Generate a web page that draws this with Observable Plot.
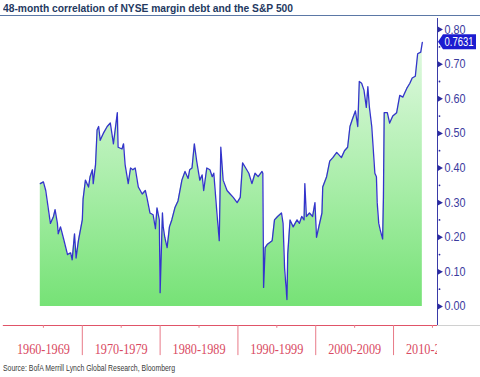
<!DOCTYPE html>
<html><head><meta charset="utf-8">
<script src="https://cdn.jsdelivr.net/npm/d3@7"></script>
<script src="https://cdn.jsdelivr.net/npm/@observablehq/plot@0.6"></script>
<style>
html,body{margin:0;padding:0;background:#fff;}
body{width:480px;height:377px;overflow:hidden;position:relative;font-family:"Liberation Sans",Arial,sans-serif;}
#titlebar{position:absolute;left:0;top:0;width:480px;height:15px;border-bottom:1px solid #5b78a6;}
#title{position:absolute;left:3px;top:2px;white-space:nowrap;font:bold 11.5px "Liberation Sans",Arial,sans-serif;color:#24395f;transform-origin:0 0;line-height:13px;}
#chart{position:absolute;left:0;top:16px;}
#source{position:absolute;left:3px;top:363px;white-space:nowrap;font-size:8.5px;color:#3a3a3a;transform-origin:0 0;line-height:10px;}
</style></head><body>
<div id="titlebar"><span id="title">48-month correlation of NYSE margin debt and the S&amp;P 500</span></div>
<div id="chart"></div>
<span id="source">Source: BofA Merrill Lynch Global Research, Bloomberg</span>
<script>
const dates = [1964.6,1965.0,1965.3,1965.9,1966.3,1966.5,1966.8,1966.9,1967.2,1967.6,1968.1,1968.5,1968.7,1969.0,1969.2,1969.5,
1970.0,1970.1,1970.4,1970.8,1971.0,1971.3,1971.4,1971.7,1971.9,1972.1,1972.3,1972.7,1973.2,1973.6,1974.0,1974.5,1974.6,1975.1,1975.3,1975.5,1975.9,1976.2,1976.5,1976.8,1977.2,1977.7,1978.1,1978.3,1978.7,1979.1,1979.4,1979.6,1979.9,
1980.0,1980.3,1980.4,1980.6,1980.9,1981.2,1981.5,1981.9,1982.3,1982.8,1983.2,1983.6,1983.8,1984.1,1984.4,1984.7,1985.1,1985.4,1985.6,1986.0,1986.4,1986.7,1986.9,1987.3,1987.6,1987.8,1988.1,1988.6,1989.0,1989.4,1989.9,
1990.3,1990.6,1991.0,1991.4,1991.8,1992.2,1992.6,1993.1,1993.2,1993.3,1993.5,1993.8,1994.4,1994.7,1995.1,1995.6,1995.8,1996.0,1996.3,1996.4,1996.7,1997.1,1997.6,1997.9,1998.2,1998.5,1998.6,1998.8,1999.2,1999.6,1999.9,
2000.1,2000.4,2000.8,2000.9,2001.4,2001.8,2002.2,2002.7,2002.9,2003.3,2003.7,2004.1,2004.4,2004.7,2005.1,2005.4,2005.6,2005.9,2006.2,2006.5,2006.7,2006.9,2007.2,2007.6,2007.8,2007.9,2008.1,2008.3,2008.6,2008.7,2008.8,2009.2,2009.5,2009.9,
2010.4,2010.8,2011.2,2011.7,2012.1,2012.4,2012.8,2013.1,2013.5,2013.7];
const values = [0.355,0.36,0.335,0.24,0.26,0.28,0.24,0.21,0.23,0.195,0.15,0.155,0.135,0.21,0.14,0.19,
0.25,0.31,0.365,0.345,0.375,0.395,0.355,0.41,0.51,0.52,0.48,0.50,0.52,0.53,0.47,0.56,0.46,0.455,0.47,0.41,0.355,0.40,0.395,0.40,0.345,0.325,0.335,0.315,0.27,0.265,0.225,0.285,0.25,
0.04,0.27,0.23,0.20,0.17,0.23,0.25,0.285,0.305,0.365,0.39,0.37,0.395,0.40,0.47,0.42,0.365,0.38,0.335,0.40,0.395,0.375,0.385,0.27,0.19,0.46,0.365,0.335,0.325,0.315,0.30,
0.315,0.415,0.40,0.385,0.355,0.385,0.375,0.39,0.385,0.055,0.17,0.18,0.19,0.25,0.26,0.27,0.24,0.11,0.02,0.15,0.25,0.23,0.25,0.24,0.26,0.25,0.355,0.26,0.27,0.26,0.30,
0.20,0.23,0.27,0.345,0.375,0.42,0.43,0.445,0.44,0.43,0.45,0.46,0.52,0.54,0.565,0.52,0.65,0.645,0.625,0.575,0.635,0.575,0.52,0.385,0.375,0.30,0.24,0.22,0.195,0.315,0.56,0.56,0.53,0.55,
0.56,0.61,0.605,0.63,0.645,0.66,0.665,0.73,0.735,0.7631];
const yTicks = [0.00,0.10,0.20,0.30,0.40,0.50,0.60,0.70,0.80];
const yMinorTicks = [0.05,0.15,0.25,0.35,0.45,0.55,0.65,0.75];
const decades = [1960,1970,1980,1990,2000,2010];
const decadeLabels = ["1960-1969","1970-1979","1980-1989","1990-1999","2000-2009","2010-2019"];
const lastLabel = "0.7631";

const data = dates.map((d,i)=>({year:d, value:values[i]}));
const X0 = 1960, X1 = 2015.65, YMIN = -0.055, YMAX = 0.832;
const XR = X1 + (X1 - X0) * 43 / 433;
const lastVal = values[values.length-1];

const plot = Plot.plot({
  width:480, height:344,
  marginLeft:4, marginRight:43, marginTop:2, marginBottom:35,
  x:{domain:[X0,X1], axis:null},
  y:{domain:[YMIN,YMAX], axis:null},
  style:{background:"transparent", overflow:"visible"},
  marks:[
    Plot.areaY(data,{x:"year", y1:0, y2:"value", fill:"url(#greenGrad)"}),
    Plot.line(data,{x:"year", y:"value", stroke:"#3434cc", strokeWidth:1.3, strokeLinejoin:"round"}),
    Plot.text(decades,{x:d=>d+5, y:-0.124, text:(d,i)=>decadeLabels[i], fill:"#d94a62", fontSize:15, fontFamily:"Liberation Serif", className:"declab"}),
    Plot.rect([0],{x1:X1, x2:XR, y1:-0.057, y2:-0.17, fill:"white"}),
    Plot.ruleY([YMIN],{x1:X0-0.15, x2:X1, stroke:"#e05468", strokeWidth:1}),
    Plot.ruleY([YMIN],{x1:X1, x2:XR, stroke:"#d0d0d0", strokeWidth:1}),
    Plot.ruleX(decades.slice(1),{y1:YMIN, y2:-0.142, stroke:"#e87a88"}),
    Plot.ruleX(decades.map(d=>d+5),{y1:YMIN, y2:YMIN-0.008, stroke:"#e87a88"}),
    Plot.ruleX([X1],{y1:YMIN, y2:YMAX, stroke:"#3a3aa8", strokeWidth:1}),
    Plot.dot(yTicks,{x:X1, y:d=>d, symbol:"triangle", rotate:90, r:2.2, fill:"#2a2aa0", stroke:"none", dx:2}),
    Plot.dot(yMinorTicks,{x:X1, y:d=>d, r:0.9, fill:"#2a2aa0", stroke:"none", dx:2}),
    Plot.text(yTicks,{x:X1, y:d=>d, text:d=>d.toFixed(2), dx:7, textAnchor:"start", fill:"#3b3b9e", fontSize:12.5, fontFamily:"Liberation Sans", className:"ylab"}),
    Plot.text([lastVal],{x:X1, y:d=>d, text:()=>lastLabel, dx:7, textAnchor:"start", fill:"white", fontSize:12, fontFamily:"Liberation Sans", className:"calltext"})
  ]
});
document.getElementById("chart").appendChild(plot);

const svg = d3.select(plot);
const ys = plot.scale("y"), xs = plot.scale("x");
const defs = svg.insert("defs", ":first-child");
const g = defs.append("linearGradient").attr("id","greenGrad").attr("gradientUnits","userSpaceOnUse")
  .attr("x1",0).attr("x2",0).attr("y1",ys.apply(0.8)).attr("y2",ys.apply(0));
g.append("stop").attr("offset",0).attr("stop-color","#e6fae6");
g.append("stop").attr("offset",0.5).attr("stop-color","#b0efb0");
g.append("stop").attr("offset",1).attr("stop-color","#76e276");

// condense labels to match reference proportions
svg.selectAll(".declab text").attr("textLength",53).attr("lengthAdjust","spacingAndGlyphs");
svg.selectAll(".ylab text").attr("textLength",21).attr("lengthAdjust","spacingAndGlyphs");
svg.selectAll(".calltext text").attr("textLength",29).attr("lengthAdjust","spacingAndGlyphs");

// callout box behind last-value label
const cx = xs.apply(X1), cy = ys.apply(lastVal);
const bx = cx + 1, w = 38, h = 15;
svg.insert("path", ".calltext")
  .attr("d", `M${bx},${cy} L${bx+5},${cy-h/2} L${bx+w},${cy-h/2} L${bx+w},${cy+h/2} L${bx+5},${cy+h/2} Z`)
  .attr("fill","#1c1cd0");

function fit(id, target){
  const el = document.getElementById(id);
  const wd = el.getBoundingClientRect().width;
  el.style.transform = `scaleX(${target/wd})`;
}
fit("title", 290);
fit("source", 172);
</script>
</body></html>
